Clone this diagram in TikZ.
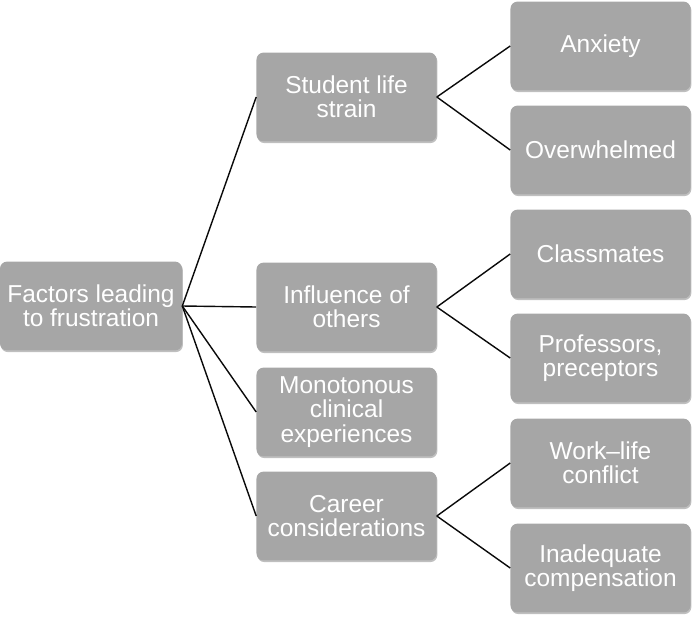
\documentclass[tikz,border=0pt]{standalone}
\usepackage{fontspec}
\setmainfont{Liberation Sans}
\usepackage{tikz}
\usetikzlibrary{shadows}
\definecolor{boxgray}{RGB}{166,166,166}
\definecolor{linedark}{RGB}{10,10,10}
\tikzset{
  box/.style={rectangle, fill=boxgray, text=white,
    minimum width=4.5cm, minimum height=2.22cm, align=center,
    font=\fontsize{17.4}{17.3}\selectfont, rounded corners=5pt, inner sep=0pt,
    drop shadow={shadow xshift=0.6pt, shadow yshift=-1.2pt, opacity=0.25, fill=black}},
  link/.style={line width=1pt, color=linedark}
}
\begin{document}
\begin{tikzpicture}[x=0.025cm, y=-0.025cm]
  \useasboundingbox (0,0) rectangle (695,620);

  % Root
  \node[box, minimum width=4.55cm] (root) at (91,306) {Factors leading\\to frustration};

  % First level
  \node[box] (strain) at (346.5,97) {Student life\\strain};
  \node[box] (others) at (346.5,307) {Influence of\\others};
  \node[box] (clinic) at (346.5,412) {Monotonous\\clinical\\experiences};
  \node[box] (career) at (346.5,516) {Career\\considerations};

  % Second level
  \node[box] (anx) at (600.5,46) {Anxiety};
  \node[box] (over) at (600.5,150) {Overwhelmed};
  \node[box] (class) at (600.5,254) {Classmates};
  \node[box] (prof) at (600.5,358) {Professors,\\preceptors};
  \node[box] (work) at (600.5,463) {Work--life\\conflict};
  \node[box] (comp) at (600.5,568) {Inadequate\\compensation};

  % Connections from root
  \draw[link] (root.east) -- (strain.west);
  \draw[link] (root.east) -- (others.west);
  \draw[link] (root.east) -- (clinic.west);
  \draw[link] (root.east) -- (career.west);

  % Connections to second level
  \draw[link] (strain.east) -- (anx.west);
  \draw[link] (strain.east) -- (over.west);
  \draw[link] (others.east) -- (class.west);
  \draw[link] (others.east) -- (prof.west);
  \draw[link] (career.east) -- (work.west);
  \draw[link] (career.east) -- (comp.west);
\end{tikzpicture}
\end{document}
